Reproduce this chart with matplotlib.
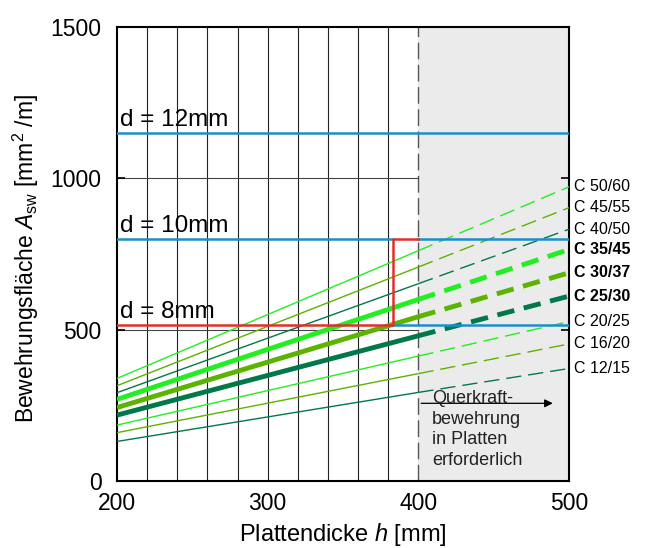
import numpy as np
import matplotlib
matplotlib.use("Agg")
import matplotlib.pyplot as plt

plt.rcParams['font.family'] = ['Liberation Sans', 'DejaVu Sans']
plt.rcParams['mathtext.fontset'] = 'custom'
plt.rcParams['mathtext.rm'] = 'Liberation Sans'
plt.rcParams['mathtext.it'] = 'Liberation Sans:italic'

# Plattendicke h [mm] an den Stützstellen
h = [200, 400, 500]

# Betonklassen: Bewehrungsfläche bei h = 200 / 400 / 500
klassen = ["C 50/60", "C 45/55", "C 40/50", "C 35/45", "C 30/37",
           "C 25/30", "C 20/25", "C 16/20", "C 12/15"]
a_200 = [339, 315, 292, 270, 243, 218, 185, 160, 131]
a_400 = [761, 707, 652, 600, 543, 480, 413, 355, 293]
a_500 = [972, 903, 832, 765, 688, 611, 527, 453, 372]
fett = [False, False, False, True, True, True, False, False, False]

# Stabdurchmesser: Bewehrungsfläche
d_labels = ["d = 12mm", "d = 10mm", "d = 8mm"]
d_werte = [1150, 800, 515]

# rote Grenzlinie
rot_h = [200, 383, 383, 400]
rot_a = [515, 515, 800, 800]

farben = ["#22ee22", "#5cb300", "#00784a"] * 3

fig = plt.figure(figsize=(6.46, 5.48), dpi=100)
ax = fig.add_axes([0.181, 0.122, 0.700, 0.829])

ax.set_xlim(200, 500)
ax.set_ylim(0, 1500)

# grauer Bereich
ax.axvspan(400, 500, color="#ebebeb", zorder=0, lw=0)
ax.plot([400, 400], [0, 1500], color="#555555", lw=1.0, dashes=(12, 4), zorder=1)

# Raster
for x in range(220, 400, 20):
    ax.plot([x, x], [0, 1500], color="#222222", lw=0.8, zorder=1)
for y in [500, 1000]:
    ax.plot([200, 400], [y, y], color="#444444", lw=0.8, zorder=1)

# Betonklassen
for i, k in enumerate(klassen):
    lw = 3.5 if fett[i] else 1.0
    ax.plot(h[:2], [a_200[i], a_400[i]], color=farben[i], lw=lw,
            solid_capstyle='butt', zorder=3)
    ds = (3.6, 2.0) if fett[i] else (11, 5)
    ax.plot(h[1:], [a_400[i], a_500[i]], color=farben[i], lw=lw,
            dashes=ds, dash_capstyle='butt', zorder=3, clip_on=False)
    ax.text(503, a_500[i], k, fontsize=11.5, va='center', ha='left',
            fontweight='bold' if fett[i] else 'normal', clip_on=False)

# Stabdurchmesser
blau = "#1a8fca"
ax.plot([200, 500], [d_werte[0], d_werte[0]], color=blau, lw=1.8, zorder=4)
ax.plot([200, 383], [d_werte[1], d_werte[1]], color=blau, lw=1.8, zorder=4)
ax.plot([400, 500], [d_werte[1], d_werte[1]], color=blau, lw=1.8, zorder=4)
ax.plot([383, 500], [d_werte[2], d_werte[2]], color=blau, lw=1.8, zorder=4)
ax.plot(rot_h, rot_a, color="#e0302a", lw=1.8, zorder=5)
for lab, v in zip(d_labels, d_werte):
    ax.text(202, v + 24, lab, fontsize=17.5, va='baseline', ha='left', zorder=6)

# Querkraftbewehrung
ax.annotate("", xy=(491, 257), xytext=(400, 257),
            arrowprops=dict(arrowstyle='-|>', color='black', lw=0.9,
                            mutation_scale=12), zorder=6)
ax.text(409, 300, "Querkraft-\nbewehrung\nin Platten\nerforderlich",
        fontsize=13, va='top', ha='left', linespacing=1.27, color="#222222", zorder=6)

ax.set_xticks([200, 300, 400, 500])
ax.set_yticks([0, 500, 1000, 1500])
ax.tick_params(direction='in', length=6, width=1.2, labelsize=16.5, right=True,
               pad=11)
ax.tick_params(axis='x', length=0, pad=8)
for s in ax.spines.values():
    s.set_linewidth(1.5)

ax.set_xlabel("Plattendicke $h$ [mm]", fontsize=17)
ax.set_ylabel("Bewehrungsfläche $A_{\\mathrm{sw}}$ [mm$^{2}$ /m]", fontsize=16.5)
ax.xaxis.set_label_coords(0.5, -0.088)
ax.yaxis.set_label_coords(-0.168, 0.49)

fig.savefig("out.png", dpi=100)
